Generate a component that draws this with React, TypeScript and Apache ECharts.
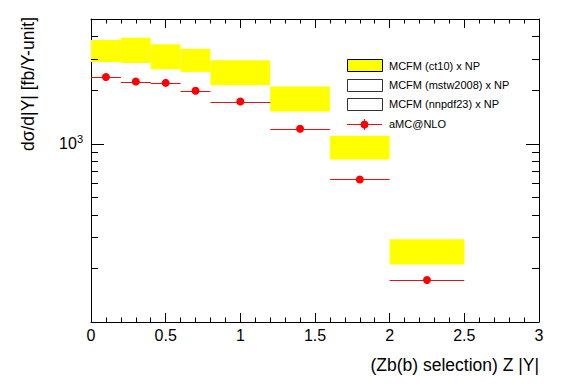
import React, { useEffect, useRef } from "react";
import * as echarts from "echarts";

const binLow = [0, 0.2, 0.4, 0.6, 0.8, 1.2, 1.6, 2.0];
const binHigh = [0.2, 0.4, 0.6, 0.8, 1.2, 1.6, 2.0, 2.5];
const mcfmLow = [2870, 2834, 2612, 2525, 2128, 1515, 814, 210];
const mcfmHigh = [3811, 3926, 3606, 3403, 2934, 2091, 1108, 291];
const amcX = [0.1, 0.3, 0.5, 0.7, 1.0, 1.4, 1.8, 2.25];
const amcY = [2366, 2229, 2192, 1978, 1723, 1213, 630, 172];
const yMajorTicks = [1000];
const yMinorTicks = [200, 300, 400, 500, 600, 700, 800, 900, 2000, 3000, 4000];
const legendNames = ["MCFM (ct10) x NP", "MCFM (mstw2008) x NP", "MCFM (nnpdf23) x NP", "aMC@NLO"];
const xTitle = "(Zb(b) selection) Z |Y|";
const yTitle = "dσ/d|Y| [fb/Y-unit]";

const FONT = "'Liberation Sans', Arial, Helvetica, sans-serif";

export default function App() {
  const ref = useRef<HTMLDivElement>(null);
  useEffect(() => {
    if (!ref.current) return;
    const chart = echarts.init(ref.current, undefined, { renderer: "svg" });
    const xAxisBase = {
      type: "value",
      min: 0,
      max: 3,
      interval: 0.5,
      axisLine: { show: true, onZero: false, lineStyle: { color: "#000", width: 1 } },
      axisTick: { show: true, inside: true, length: 9, lineStyle: { color: "#000" } },
      minorTick: { show: true, splitNumber: 5, length: 4.5, lineStyle: { color: "#000" } },
      splitLine: { show: false },
      minorSplitLine: { show: false },
    };
    const yAxisBase = {
      type: "log",
      logBase: 10,
      min: 100,
      max: 5000,
      axisLine: { show: true, onZero: false, lineStyle: { color: "#000", width: 1 } },
      axisTick: { show: false },
      minorTick: { show: false },
      splitLine: { show: false },
    };
    const tickData = [
      ...yMajorTicks.map((v) => [0, v, 13]),
      ...yMinorTicks.map((v) => [0, v, 7]),
    ];
    const legendY = [65.5, 85, 104, 124.3];
    const option = {
      animation: false,
      backgroundColor: "#fff",
      grid: { left: 91, right: 28, top: 19, bottom: 62, containLabel: false },
      xAxis: [
        {
          ...xAxisBase,
          position: "bottom",
          axisLabel: { show: true, color: "#000", fontSize: 16, fontFamily: FONT, margin: 5 },
        },
        { ...xAxisBase, position: "top", axisLabel: { show: false } },
      ],
      yAxis: [
        {
          ...yAxisBase,
          position: "left",
          axisLabel: {
            show: true,
            margin: 8,
            formatter: (v: number) =>
              Math.abs(Math.log10(v) - 3) < 1e-6 ? "{a|10}{b|3}" : "",
            rich: {
              a: { fontSize: 16, fontFamily: FONT, color: "#000" },
              b: { fontSize: 11, fontFamily: FONT, color: "#000", padding: [0, 0, 9, 0] },
            },
          },
        },
        { ...yAxisBase, position: "right", axisLabel: { show: false } },
      ],
      series: [
        {
          type: "custom",
          name: "MCFM (ct10) x NP",
          xAxisIndex: 0,
          yAxisIndex: 0,
          encode: { x: [0, 1], y: [2, 3] },
          data: binLow.map((lo, i) => [lo, binHigh[i], mcfmLow[i], mcfmHigh[i]]),
          renderItem: (params: any, api: any) => {
            const p1 = api.coord([api.value(0), api.value(3)]);
            const p2 = api.coord([api.value(1), api.value(2)]);
            return {
              type: "rect",
              shape: { x: p1[0], y: p1[1], width: p2[0] - p1[0], height: p2[1] - p1[1] },
              style: { fill: "#ffff00" },
            };
          },
          z: 1,
        },
        {
          type: "custom",
          name: "aMC@NLO bins",
          xAxisIndex: 0,
          yAxisIndex: 0,
          encode: { x: [0, 1], y: 2 },
          data: binLow.map((lo, i) => [lo, binHigh[i], amcY[i]]),
          renderItem: (params: any, api: any) => {
            const p1 = api.coord([api.value(0), api.value(2)]);
            const p2 = api.coord([api.value(1), api.value(2)]);
            return {
              type: "line",
              shape: { x1: p1[0], y1: Math.round(p1[1]) + 0.5, x2: p2[0], y2: Math.round(p2[1]) + 0.5 },
              style: { stroke: "#dd1515", lineWidth: 1 },
            };
          },
          z: 2,
        },
        {
          type: "scatter",
          name: "aMC@NLO",
          xAxisIndex: 0,
          yAxisIndex: 0,
          symbol: "circle",
          symbolSize: 8,
          itemStyle: { color: "#ff0000", opacity: 1 },
          data: amcX.map((x, i) => [x, amcY[i]]),
          z: 3,
        },
        {
          type: "custom",
          name: "yticks",
          xAxisIndex: 0,
          yAxisIndex: 0,
          encode: { x: 0, y: 1 },
          data: tickData,
          renderItem: (params: any, api: any) => {
            const l = api.coord([0, api.value(1)]);
            const r = api.coord([3, api.value(1)]);
            const len = api.value(2);
            const y = Math.round(l[1]) + 0.5;
            return {
              type: "group",
              children: [
                { type: "line", shape: { x1: l[0], y1: y, x2: l[0] + len, y2: y }, style: { stroke: "#000", lineWidth: 1 } },
                { type: "line", shape: { x1: r[0], y1: y, x2: r[0] - len, y2: y }, style: { stroke: "#000", lineWidth: 1 } },
              ],
            };
          },
          z: 5,
          silent: true,
        },
      ],
      graphic: [
        {
          type: "text",
          x: 539,
          y: 365,
          style: { text: xTitle, fontSize: 17.5, fontFamily: FONT, fill: "#000", align: "right", verticalAlign: "middle" },
        },
        {
          type: "text",
          x: 28,
          y: 17,
          rotation: Math.PI / 2,
          style: { text: yTitle, fontSize: 17.5, fontFamily: FONT, fill: "#000", align: "right", verticalAlign: "middle" },
        },
        { type: "rect", shape: { x: 347.5, y: 59.5, width: 35, height: 12 }, style: { fill: "#ffff00", stroke: "#000", lineWidth: 1 } },
        { type: "rect", shape: { x: 347.5, y: 79.5, width: 35, height: 12 }, style: { fill: "#fff", stroke: "#333", lineWidth: 1 } },
        { type: "rect", shape: { x: 347.5, y: 98.5, width: 35, height: 12 }, style: { fill: "#fff", stroke: "#333", lineWidth: 1 } },
        { type: "line", shape: { x1: 347, y1: 124.5, x2: 382, y2: 124.5 }, style: { stroke: "#dd1515", lineWidth: 1 } },
        { type: "line", shape: { x1: 364.5, y1: 119, x2: 364.5, y2: 130 }, style: { stroke: "#dd1515", lineWidth: 1 } },
        { type: "circle", shape: { cx: 364.5, cy: 124.5, r: 4 }, style: { fill: "#ff0000" } },
        ...legendNames.map((name, i) => ({
          type: "text",
          x: 389,
          y: legendY[i],
          style: { text: name, fontSize: 11, fontFamily: FONT, fill: "#000", align: "left", verticalAlign: "middle" },
        })),
      ],
    };
    chart.setOption(option as any);
    return () => chart.dispose();
  }, []);
  return (
    <div
      ref={ref}
      style={{ position: "absolute", left: 0, top: 0, width: 567, height: 384, background: "#fff" }}
    />
  );
}
